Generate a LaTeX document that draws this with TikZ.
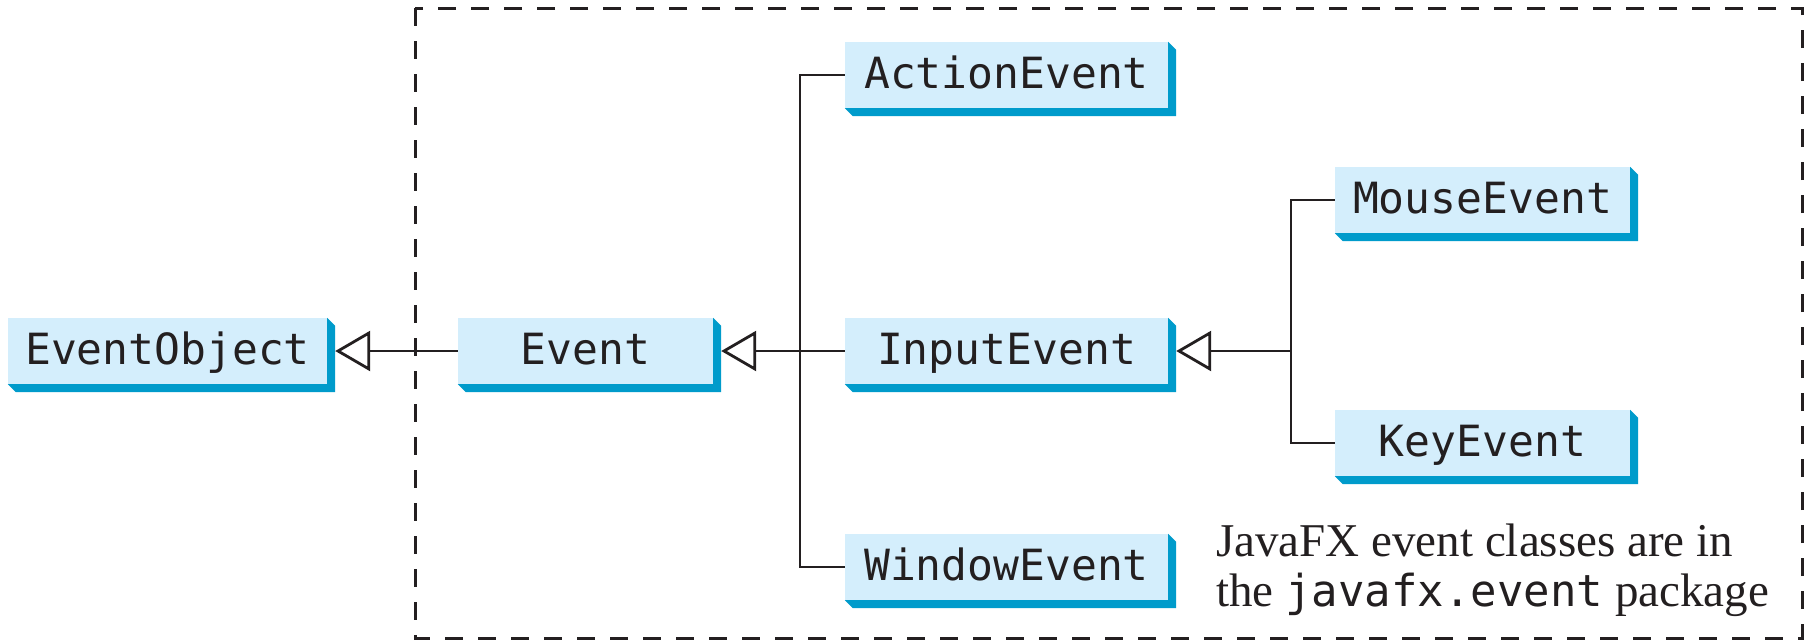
\documentclass[tikz,border=0pt]{standalone}
\usepackage{fontspec}
\setmainfont{Liberation Serif}
\newfontfamily\boxmono{DejaVu Sans Mono}
\usetikzlibrary{arrows.meta}
\definecolor{facecol}{HTML}{D4EEFC}
\definecolor{shadowcol}{HTML}{009BCB}
\definecolor{inkcol}{HTML}{231F20}
\tikzset{
  cls/.style={rectangle, fill=facecol, inner sep=0pt, minimum height=66pt,
    text height=36pt, text depth=10pt, align=center, text=inkcol,
    font=\boxmono\fontsize{43}{50}\selectfont},
  conn/.style={line width=2.8pt, draw=inkcol},
  inh/.style={conn, -{Triangle[open, length=35pt, width=40pt, fill=white]}},
  frame/.style={line width=3pt, draw=inkcol, dash pattern=on 18pt off 15pt},
  note/.style={anchor=base west, inner sep=0pt, text=inkcol, font=\fontsize{47}{54}\selectfont}
}
\newcommand\shadowfor[1]{%
  \fill[shadowcol] (#1.south west) -- ([xshift=8pt,yshift=-8pt]#1.south west)
    -- ([xshift=8pt,yshift=-8pt]#1.south east) -- ([xshift=8pt,yshift=-8pt]#1.north east)
    -- (#1.north east) -- (#1.south east) -- cycle;}
\begin{document}
\begin{tikzpicture}[x=1pt,y=-1pt]
\useasboundingbox (0,0) rectangle (1812,643);
\draw[frame] (415,8) rectangle (1802,638);
\node[cls, minimum width=319pt] (eo) at (167.5,351) {EventObject};
\node[cls, minimum width=255pt] (ev) at (585.5,351) {Event};
\node[cls, minimum width=323pt] (ae) at (1006.5,75) {ActionEvent};
\node[cls, minimum width=323pt] (ie) at (1006.5,351) {InputEvent};
\node[cls, minimum width=323pt] (we) at (1006.5,567) {WindowEvent};
\node[cls, minimum width=295pt] (me) at (1482.5,200) {MouseEvent};
\node[cls, minimum width=295pt] (ke) at (1482.5,443) {KeyEvent};
\foreach \n in {eo,ev,ae,ie,we,me,ke} {\shadowfor{\n}}
\coordinate (busA) at (800,351);
\coordinate (busB) at (1291,351);
\draw[inh] (ev.west) -- ([xshift=8pt]eo.east);
\draw[inh] (ie.west) -- ([xshift=8pt]ev.east);
\draw[conn] (ae.west) -| (busA) |- (we.west);
\draw[conn] (me.west) -| (busB) |- (ke.west);
\draw[inh] (busB) -- ([xshift=8pt]ie.east);
\node[note] (n1) at (1216,556) {JavaFX event classes are in};
\node[note] (n2) at (1216,606) {the {\boxmono\fontsize{44}{50}\selectfont javafx.event} package};
\end{tikzpicture}
\end{document}
